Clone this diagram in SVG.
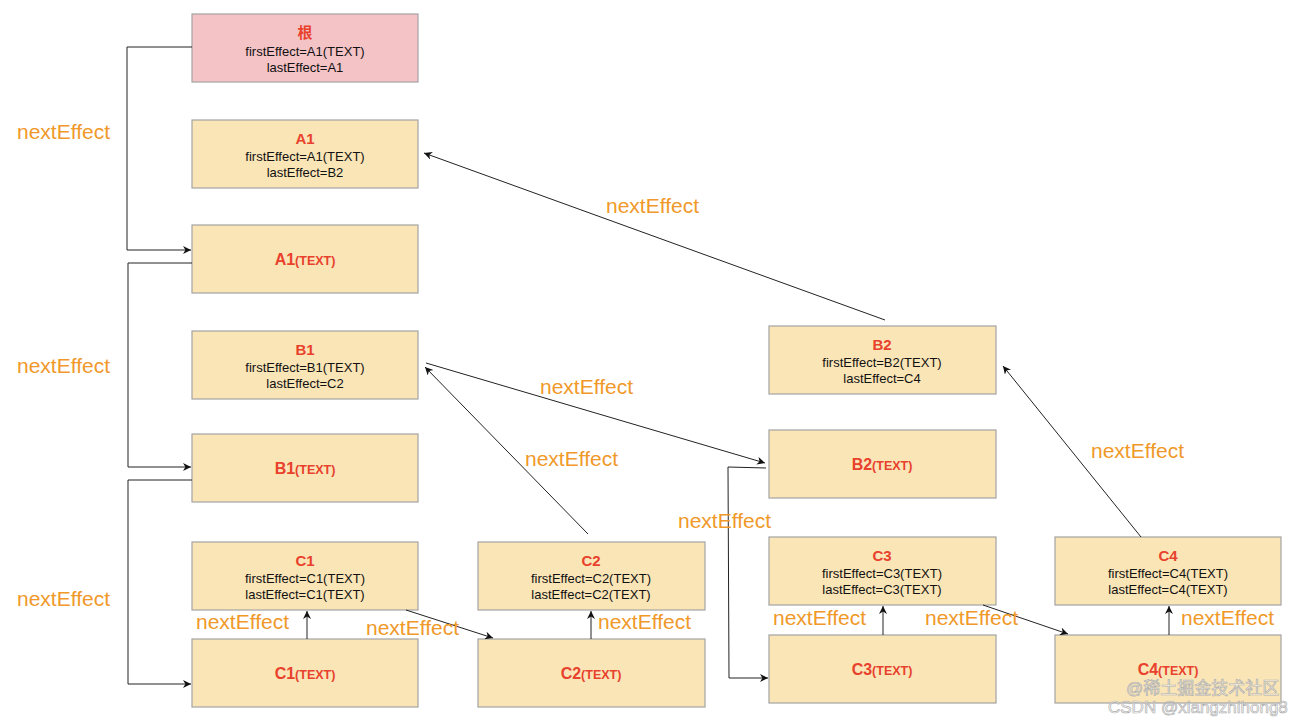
<svg xmlns="http://www.w3.org/2000/svg" width="1304" height="721" viewBox="0 0 1304 721">
<defs>
<style>
.box{fill:#fae5b7;stroke:#a3a3a3;stroke-width:1.2}
.root{fill:#f4c3c6;stroke:#a3a3a3;stroke-width:1.2}
.t{font-family:"Liberation Sans",Arial,sans-serif;text-anchor:middle}
.ttl{font-size:15px;font-weight:bold;fill:#e8412c}
.big{font-size:16px;font-weight:bold;fill:#e8412c}
.sm{font-size:12.5px;font-weight:bold;fill:#e8412c}
.ln{font-size:13px;fill:#111}
.lbl{font-family:"Liberation Sans",Arial,sans-serif;font-size:21px;fill:#f0992a}
.c{fill:none;stroke:#222;stroke-width:1}
.wm{font-family:"Liberation Sans","Noto Sans CJK SC",sans-serif;font-size:17px;fill:#ffffff;fill-opacity:0.5;stroke:#b0b0b0;stroke-width:0.7}
</style>
<marker id="ah" viewBox="0 0 10 10" refX="10" refY="5" markerWidth="10" markerHeight="8" markerUnits="userSpaceOnUse" orient="auto">
<path d="M0,0 L10,5 L0,10 L3,5 z" fill="#111"/>
</marker>
</defs>
<rect width="1304" height="721" fill="#ffffff"/>

<g id="root">
<rect class="root" x="192" y="14" width="226" height="68"/>
<text class="t ttl" x="305" y="38" style="font-family:'Liberation Sans','Noto Sans CJK SC',sans-serif">根</text>
<text class="t ln" x="305" y="56">firstEffect=A1(TEXT)</text>
<text class="t ln" x="305" y="72">lastEffect=A1</text>
</g>

<g id="A1">
<rect class="box" x="192" y="120" width="226" height="68"/>
<text class="t ttl" x="305" y="144">A1</text>
<text class="t ln" x="305" y="161">firstEffect=A1(TEXT)</text>
<text class="t ln" x="305" y="177">lastEffect=B2</text>
</g>

<g id="A1TEXT">
<rect class="box" x="192" y="225" width="226" height="68"/>
<text class="t" x="305" y="265"><tspan class="big">A1</tspan><tspan class="sm">(TEXT)</tspan></text>
</g>

<g id="B1">
<rect class="box" x="192" y="331" width="226" height="68"/>
<text class="t ttl" x="305" y="355">B1</text>
<text class="t ln" x="305" y="372">firstEffect=B1(TEXT)</text>
<text class="t ln" x="305" y="388">lastEffect=C2</text>
</g>

<g id="B1TEXT">
<rect class="box" x="192" y="434" width="226" height="68"/>
<text class="t" x="305" y="474"><tspan class="big">B1</tspan><tspan class="sm">(TEXT)</tspan></text>
</g>

<g id="C1">
<rect class="box" x="192" y="542" width="226" height="68"/>
<text class="t ttl" x="305" y="566">C1</text>
<text class="t ln" x="305" y="583">firstEffect=C1(TEXT)</text>
<text class="t ln" x="305" y="599">lastEffect=C1(TEXT)</text>
</g>

<g id="C1TEXT">
<rect class="box" x="192" y="639" width="226" height="68"/>
<text class="t" x="305" y="679"><tspan class="big">C1</tspan><tspan class="sm">(TEXT)</tspan></text>
</g>

<g id="C2">
<rect class="box" x="478" y="542" width="227" height="68"/>
<text class="t ttl" x="591" y="566">C2</text>
<text class="t ln" x="591" y="583">firstEffect=C2(TEXT)</text>
<text class="t ln" x="591" y="599">lastEffect=C2(TEXT)</text>
</g>

<g id="C2TEXT">
<rect class="box" x="478" y="639" width="227" height="68"/>
<text class="t" x="591" y="679"><tspan class="big">C2</tspan><tspan class="sm">(TEXT)</tspan></text>
</g>

<g id="B2">
<rect class="box" x="769" y="326" width="227" height="68"/>
<text class="t ttl" x="882" y="350">B2</text>
<text class="t ln" x="882" y="367">firstEffect=B2(TEXT)</text>
<text class="t ln" x="882" y="383">lastEffect=C4</text>
</g>

<g id="B2TEXT">
<rect class="box" x="769" y="430" width="227" height="68"/>
<text class="t" x="882" y="470"><tspan class="big">B2</tspan><tspan class="sm">(TEXT)</tspan></text>
</g>

<g id="C3">
<rect class="box" x="769" y="537" width="227" height="68"/>
<text class="t ttl" x="882" y="561">C3</text>
<text class="t ln" x="882" y="578">firstEffect=C3(TEXT)</text>
<text class="t ln" x="882" y="594">lastEffect=C3(TEXT)</text>
</g>

<g id="C3TEXT">
<rect class="box" x="769" y="635" width="227" height="68"/>
<text class="t" x="882" y="675"><tspan class="big">C3</tspan><tspan class="sm">(TEXT)</tspan></text>
</g>

<g id="C4">
<rect class="box" x="1055" y="537" width="226" height="68"/>
<text class="t ttl" x="1168" y="561">C4</text>
<text class="t ln" x="1168" y="578">firstEffect=C4(TEXT)</text>
<text class="t ln" x="1168" y="594">lastEffect=C4(TEXT)</text>
</g>

<g id="C4TEXT">
<rect class="box" x="1055" y="635" width="226" height="68"/>
<text class="t" x="1168" y="675"><tspan class="big">C4</tspan><tspan class="sm">(TEXT)</tspan></text>
</g>

<g id="connectors">
<polyline class="c" points="192,47 127,47 127,250 191,250" marker-end="url(#ah)"/>
<polyline class="c" points="192,263 128,263 128,467 191,467" marker-end="url(#ah)"/>
<polyline class="c" points="192,480 128,480 128,684 191,684" marker-end="url(#ah)"/>
<line class="c" x1="885" y1="320" x2="424" y2="153" marker-end="url(#ah)"/>
<line class="c" x1="426" y1="363" x2="765" y2="463" marker-end="url(#ah)"/>
<line class="c" x1="588" y1="534" x2="425" y2="367" marker-end="url(#ah)"/>
<polyline class="c" points="766,468 728,467 729,678 768,678" marker-end="url(#ah)"/>
<line class="c" x1="1141" y1="537" x2="1003" y2="366" marker-end="url(#ah)"/>
<line class="c" x1="307" y1="639" x2="307" y2="611" marker-end="url(#ah)"/>
<line class="c" x1="406" y1="610" x2="493" y2="638" marker-end="url(#ah)"/>
<line class="c" x1="591" y1="639" x2="591" y2="611" marker-end="url(#ah)"/>
<line class="c" x1="883" y1="635" x2="883" y2="606" marker-end="url(#ah)"/>
<line class="c" x1="983" y1="605" x2="1068" y2="634" marker-end="url(#ah)"/>
<line class="c" x1="1169" y1="635" x2="1169" y2="606" marker-end="url(#ah)"/>
</g>

<g id="labels">
<text class="lbl" x="17" y="139">nextEffect</text>
<text class="lbl" x="17" y="373">nextEffect</text>
<text class="lbl" x="17" y="606">nextEffect</text>
<text class="lbl" x="606" y="213">nextEffect</text>
<text class="lbl" x="540" y="394">nextEffect</text>
<text class="lbl" x="525" y="466">nextEffect</text>
<text class="lbl" x="678" y="528">nextEffect</text>
<text class="lbl" x="1091" y="458">nextEffect</text>
<text class="lbl" x="196" y="629">nextEffect</text>
<text class="lbl" x="366" y="635">nextEffect</text>
<text class="lbl" x="598" y="629">nextEffect</text>
<text class="lbl" x="773" y="625">nextEffect</text>
<text class="lbl" x="925" y="625">nextEffect</text>
<text class="lbl" x="1181" y="625">nextEffect</text>
</g>

<g id="watermark">
<text class="wm" x="1126" y="694">@稀土掘金技术社区</text>
<text class="wm" x="1108" y="713">CSDN @xiangzhihong8</text>
</g>
</svg>
